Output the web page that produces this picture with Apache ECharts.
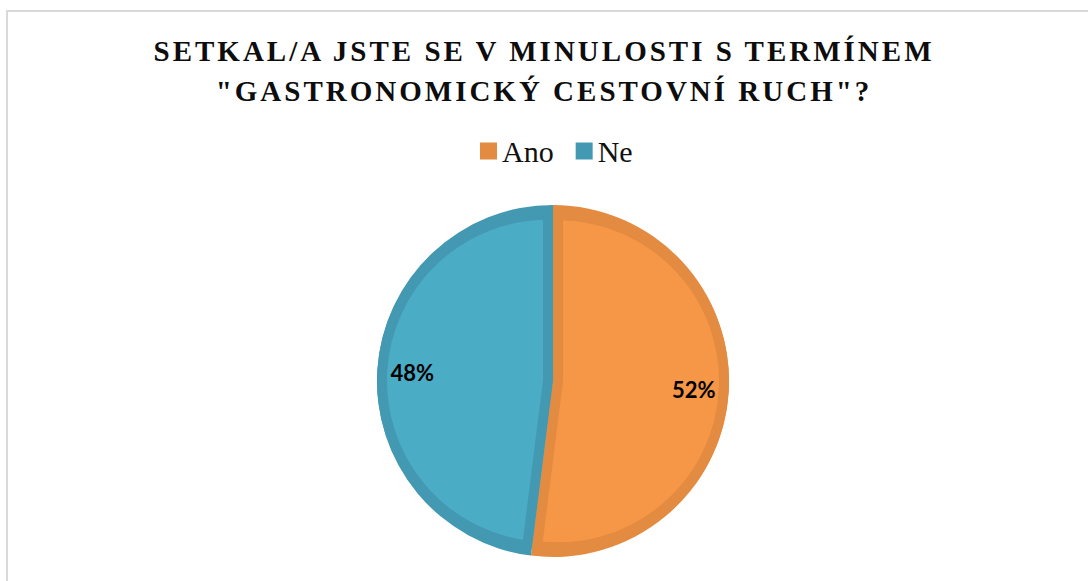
<!DOCTYPE html>
<html lang="cs">
<head>
<meta charset="utf-8">
<title>Gastronomický cestovní ruch</title>
<script src="https://cdn.jsdelivr.net/npm/echarts@6/dist/echarts.min.js"></script>
<style>
  html, body { margin: 0; padding: 0; background: #fff; }
  #chart { width: 1088px; height: 581px; }
</style>
</head>
<body>
<div id="chart"></div>
<script>
// data
var categories = ['Ano', 'Ne'];
var shares = [52, 48];
var fillColors = ['#F59747', '#4BACC6'];
var edgeColors = ['#E38B41', '#4399B2'];

var titleLines = ['SETKAL/A JSTE SE V MINULOSTI S TERMÍNEM', '"GASTRONOMICKÝ CESTOVNÍ RUCH"?'];

var serif = 'Liberation Serif, serif';
var center = [553, 381];
var outerR = 176;

function items(colors, extra) {
    return categories.map(function (name, i) {
        var it = { name: name, value: shares[i], itemStyle: { color: colors[i] } };
        if (extra) extra(it, i);
        return it;
    });
}

var myChart = echarts.init(document.getElementById('chart'), null, { renderer: 'svg' });
var option = {
    animation: false,
    title: {
        text: titleLines.join('\n'),
        left: 'center',
        top: 26,
        textStyle: {
            fontFamily: serif,
            fontWeight: 'bold',
            fontSize: 29,
            lineHeight: 40,
            color: '#0d0d0d'
        }
    },
    legend: {
        data: categories,
        top: 131,
        left: 475,
        icon: 'rect',
        itemWidth: 17,
        itemHeight: 17,
        itemGap: 22,
        selectedMode: false,
        textStyle: {
            fontFamily: serif,
            fontWeight: 'normal',
            fontSize: 30,
            color: '#111'
        }
    },
    graphic: [{
        type: 'rect',
        silent: true,
        shape: { x: 7, y: 11, width: 1100, height: 600 },
        style: { fill: null, stroke: '#d9d9d9', lineWidth: 2 }
    }],
    series: [
        {
            // darker outline layer
            name: 'okraj',
            type: 'pie',
            silent: true,
            z: 1,
            center: center,
            radius: [0, outerR],
            startAngle: 90,
            clockwise: true,
            label: { show: false },
            labelLine: { show: false },
            data: items(edgeColors)
        },
        {
            // lighter fill, nudged outwards so the outline stays visible on every edge
            name: 'výplň',
            type: 'pie',
            silent: true,
            z: 2,
            center: center,
            radius: [0, outerR - 10],
            startAngle: 90,
            clockwise: true,
            selectedMode: 'multiple',
            selectedOffset: 5,
            label: { show: false },
            labelLine: { show: false },
            data: items(fillColors, function (it, i) {
                it.selected = true;
                it.itemStyle.borderColor = edgeColors[i];
                it.itemStyle.borderWidth = 10;
                it.select = { itemStyle: { color: fillColors[i], borderColor: edgeColors[i], borderWidth: 10 } };
            })
        },
        {
            // percentage labels near the rim
            name: 'popisky',
            type: 'pie',
            silent: true,
            z: 5,
            center: center,
            radius: [100, outerR],
            startAngle: 90,
            clockwise: true,
            emphasis: { disabled: true },
            label: {
                show: true,
                position: 'inside',
                formatter: '{c}%',
                fontFamily: 'Lato, sans-serif',
                fontWeight: 'bold',
                fontSize: 22,
                color: '#000'
            },
            labelLine: { show: false },
            data: categories.map(function (name, i) {
                return { name: name, value: shares[i], itemStyle: { color: 'rgba(0,0,0,0)' } };
            })
        }
    ]
};

// svg tweaks: wide letter spacing in the title, serif face for the legend
function tweakText() {
    document.querySelectorAll('#chart svg text, #chart svg tspan').forEach(function (t) {
        var s = t.textContent.trim();
        if (titleLines.indexOf(s) >= 0) {
            t.style.letterSpacing = '3px';
        }
        if (categories.indexOf(s) >= 0) {
            t.setAttribute('font-family', '"Liberation Serif", serif');
            t.style.setProperty('font-family', '"Liberation Serif", serif', 'important');
        }
    });
}
myChart.on('finished', tweakText);
myChart.setOption(option);
tweakText();
setTimeout(tweakText, 0);
</script>
</body>
</html>
